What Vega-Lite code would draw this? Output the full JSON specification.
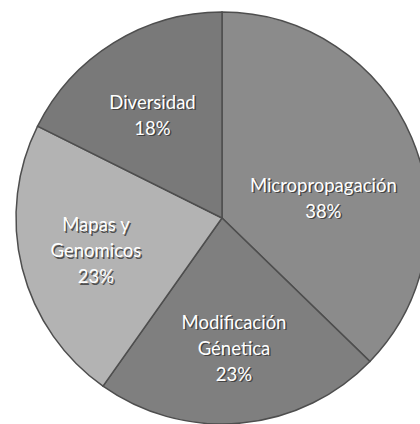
{
  "$schema": "https://vega.github.io/schema/vega-lite/v6.json",
  "width": 420,
  "height": 424,
  "autosize": {"type": "fit", "contains": "padding"},
  "padding": {"left": 24, "top": 12, "right": 0, "bottom": 0},
  "background": "white",
  "view": {"stroke": null},
  "data": {
    "values": [
      {"cat": "Micropropagación", "pct": 38, "tm": "Micropropagación\n38%", "t2": "", "t3": "", "o": 1},
      {"cat": "Modificación Génetica", "pct": 23, "tm": "", "t2": "", "t3": "Modificación\nGénetica\n23%", "o": 2},
      {"cat": "Mapas y Genomicos", "pct": 23, "tm": "", "t2": "", "t3": "Mapas y\nGenomicos\n23%", "o": 3},
      {"cat": "Diversidad", "pct": 18, "tm": "", "t2": "Diversidad\n18%", "t3": "", "o": 4}
    ]
  },
  "encoding": {
    "theta": {"field": "pct", "type": "quantitative", "stack": true},
    "order": {"field": "o", "type": "quantitative"}
  },
  "layer": [
    {
      "mark": {"type": "arc", "outerRadius": 206, "stroke": "#4e4e4e", "strokeWidth": 1.5},
      "encoding": {
        "color": {
          "field": "cat",
          "type": "nominal",
          "scale": {
            "domain": ["Micropropagación", "Modificación Génetica", "Mapas y Genomicos", "Diversidad"],
            "range": ["#8b8b8b", "#7f7f7f", "#b3b3b3", "#797979"]
          },
          "legend": null
        }
      }
    },
    {
      "mark": {"type": "text", "radius": 110, "lineBreak": "\n", "font": "Lato", "fontSize": 18.5, "lineHeight": 26, "fill": "#303030", "opacity": 0.75, "dx": 1.5, "dy": 12, "baseline": "middle"},
      "encoding": {"text": {"field": "tm", "type": "nominal"}}
    },
    {
      "mark": {"type": "text", "radius": 132, "lineBreak": "\n", "font": "Lato", "fontSize": 18.5, "lineHeight": 26, "fill": "#303030", "opacity": 0.75, "dx": 1.5, "dy": -1.5, "baseline": "middle"},
      "encoding": {"text": {"field": "t2", "type": "nominal"}}
    },
    {
      "mark": {"type": "text", "radius": 130, "lineBreak": "\n", "font": "Lato", "fontSize": 18.5, "lineHeight": 26, "fill": "#303030", "opacity": 0.75, "dx": 1.5, "dy": -23, "baseline": "middle"},
      "encoding": {"text": {"field": "t3", "type": "nominal"}}
    },
    {
      "mark": {"type": "text", "radius": 110, "lineBreak": "\n", "font": "Lato", "fontSize": 18.5, "lineHeight": 26, "fill": "white", "dy": 10.5, "baseline": "middle"},
      "encoding": {"text": {"field": "tm", "type": "nominal"}}
    },
    {
      "mark": {"type": "text", "radius": 132, "lineBreak": "\n", "font": "Lato", "fontSize": 18.5, "lineHeight": 26, "fill": "white", "dy": -3, "baseline": "middle"},
      "encoding": {"text": {"field": "t2", "type": "nominal"}}
    },
    {
      "mark": {"type": "text", "radius": 130, "lineBreak": "\n", "font": "Lato", "fontSize": 18.5, "lineHeight": 26, "fill": "white", "dy": -24.5, "baseline": "middle"},
      "encoding": {"text": {"field": "t3", "type": "nominal"}}
    }
  ]
}
